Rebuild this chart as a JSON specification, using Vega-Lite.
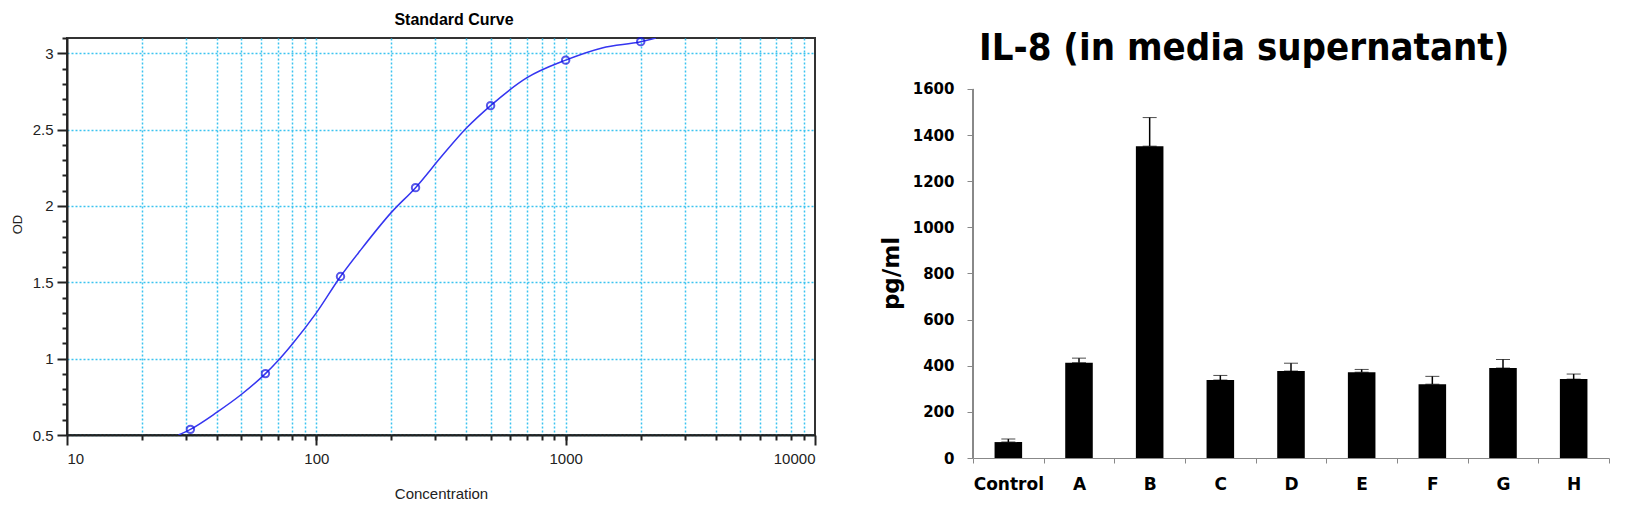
{
  "$schema": "https://vega.github.io/schema/vega-lite/v6.json",
  "background": "white",
  "padding": {"left": 10, "top": 10, "right": 0, "bottom": 0},
  "spacing": 63,
  "config": {
    "font": "Liberation Sans",
    "view": {"stroke": "#333333", "strokeWidth": 2}
  },
  "hconcat": [
    {
      "width": 748,
      "height": 397,
      "title": {"text": "Standard Curve", "fontSize": 16, "fontWeight": "bold", "font": "Liberation Sans", "dx": 13, "offset": 6},
      "layer": [
        {
          "data": {"values": [
            {"conc": 28, "od": 0.5},
            {"conc": 31.25, "od": 0.537},
            {"conc": 40, "od": 0.65},
            {"conc": 50, "od": 0.765},
            {"conc": 62.5, "od": 0.902},
            {"conc": 70, "od": 0.985},
            {"conc": 80, "od": 1.095},
            {"conc": 100, "od": 1.3},
            {"conc": 125, "od": 1.538},
            {"conc": 150, "od": 1.708},
            {"conc": 200, "od": 1.958},
            {"conc": 250, "od": 2.12},
            {"conc": 320, "od": 2.33},
            {"conc": 400, "od": 2.51},
            {"conc": 500, "od": 2.657},
            {"conc": 700, "od": 2.84},
            {"conc": 1000, "od": 2.955},
            {"conc": 1400, "od": 3.035},
            {"conc": 2000, "od": 3.076},
            {"conc": 2300, "od": 3.1}
          ]},
          "mark": {"type": "line", "color": "#3535f0", "strokeWidth": 1.5, "interpolate": "monotone", "clip": true},
          "encoding": {
            "x": {
              "field": "conc", "type": "quantitative",
              "scale": {"type": "log", "domain": [10, 10000], "nice": false},
              "axis": {
                "orient": "bottom", "values": [10, 100, 1000, 10000], "format": "d",
                "tickSize": 10, "tickWidth": 2, "tickColor": "#222", "domainColor": "#222", "domainWidth": 2,
                "labelFontSize": 15, "labelColor": "#222", "labelPadding": 6, "grid": false,
                "title": "Concentration", "titleFontSize": 15, "titleFontWeight": "normal", "titleColor": "#222", "titlePadding": 20
              }
            },
            "y": {
              "field": "od", "type": "quantitative",
              "scale": {"domain": [0.5, 3.1], "nice": false, "zero": false},
              "axis": {
                "orient": "left", "values": [0.5, 1, 1.5, 2, 2.5, 3], "format": "~g",
                "tickSize": 10, "tickWidth": 2, "tickColor": "#222", "domainColor": "#222", "domainWidth": 2,
                "labelFontSize": 15, "labelColor": "#222", "labelPadding": 4,
                "grid": true, "gridColor": "#3cc3f0", "gridDash": [2, 2], "gridWidth": 1.5,
                "title": "OD", "titleFontSize": 13, "titleFontWeight": "normal", "titleColor": "#222", "titlePadding": 8, "titleY": 186
              }
            }
          }
        },
        {
          "data": {"values": [
            {"conc": 31.25, "od": 0.537},
            {"conc": 62.5, "od": 0.902},
            {"conc": 125, "od": 1.538},
            {"conc": 250, "od": 2.12},
            {"conc": 500, "od": 2.657},
            {"conc": 1000, "od": 2.955},
            {"conc": 2000, "od": 3.076}
          ]},
          "mark": {"type": "point", "shape": "circle", "filled": false, "color": "#1010e0", "strokeWidth": 2, "size": 55},
          "encoding": {
            "x": {
              "field": "conc", "type": "quantitative",
              "axis": {
                "orient": "bottom",
                "values": [20, 30, 40, 50, 60, 70, 80, 90, 100, 200, 300, 400, 500, 600, 700, 800, 900, 1000, 2000, 3000, 4000, 5000, 6000, 7000, 8000, 9000],
                "labels": false, "domain": false, "tickSize": 5, "tickWidth": 2, "tickColor": "#222",
                "grid": true, "gridColor": "#3cc3f0", "gridDash": [2, 2], "gridWidth": 1.5, "title": null
              }
            },
            "y": {
              "field": "od", "type": "quantitative",
              "axis": {
                "orient": "left",
                "values": [0.6, 0.7, 0.8, 0.9, 1.1, 1.2, 1.3, 1.4, 1.6, 1.7, 1.8, 1.9, 2.1, 2.2, 2.3, 2.4, 2.6, 2.7, 2.8, 2.9, 3.1],
                "labels": false, "domain": false, "tickSize": 5, "tickWidth": 2, "tickColor": "#222",
                "grid": false, "title": null
              }
            }
          }
        }
      ],
      "resolve": {"axis": {"x": "independent", "y": "independent"}}
    },
    {
      "width": 636,
      "height": 420,
      "view": {"stroke": null},
      "title": {"text": "IL-8 (in media supernatant)", "anchor": "start", "frame": "group", "dx": 6, "fontSize": 38, "fontWeight": "bold", "font": "Liberation Sans Narrow, DejaVu Sans Condensed, Liberation Sans", "color": "black", "offset": -30},
      "data": {"values": [
        {"group": "Control", "mean": 69, "upper": 82},
        {"group": "A", "mean": 413, "upper": 433},
        {"group": "B", "mean": 1352, "upper": 1476},
        {"group": "C", "mean": 338, "upper": 358},
        {"group": "D", "mean": 377, "upper": 411},
        {"group": "E", "mean": 372, "upper": 384},
        {"group": "F", "mean": 320, "upper": 354},
        {"group": "G", "mean": 390, "upper": 427},
        {"group": "H", "mean": 342, "upper": 364}
      ]},
      "encoding": {
        "x": {
          "field": "group", "type": "nominal", "sort": null,
          "scale": {"paddingInner": 0, "paddingOuter": 0},
          "axis": {
            "labelAngle": 0, "labelFont": "DejaVu Sans", "labelFontWeight": "bold", "labelFontSize": 17, "labelColor": "black",
            "labelPadding": 13, "tickBand": "extent", "tickSize": 5, "tickColor": "#888", "domainColor": "#888", "title": null
          }
        },
        "y": {
          "field": "mean", "type": "quantitative",
          "scale": {"domain": [0, 1821], "nice": false},
          "axis": {
            "values": [0, 200, 400, 600, 800, 1000, 1200, 1400, 1600], "format": "d", "domain": false,
            "labelFont": "DejaVu Sans", "labelFontWeight": "bold", "labelFontSize": 15, "labelColor": "black",
            "labelPadding": 13, "tickSize": 6, "tickColor": "#888", "grid": false,
            "title": "pg/ml", "titleFont": "DejaVu Sans", "titleFontSize": 23, "titleFontWeight": "bold", "titleColor": "black", "titlePadding": 9, "titleY": 235
          }
        }
      },
      "layer": [
        {
          "mark": {"type": "rule", "color": "#888"},
          "encoding": {
            "x": {"datum": "Control", "bandPosition": 0},
            "y": {"datum": 0},
            "y2": {"datum": 1600}
          }
        },
        {
          "mark": {"type": "errorbar", "ticks": {"size": 14, "color": "black", "strokeWidth": 1.5}, "rule": {"color": "black", "strokeWidth": 1.5}},
          "encoding": {
            "y2": {"field": "upper"}
          }
        },
        {
          "mark": {"type": "bar", "color": "black", "width": {"band": 0.39}}
        }
      ]
    }
  ]
}
